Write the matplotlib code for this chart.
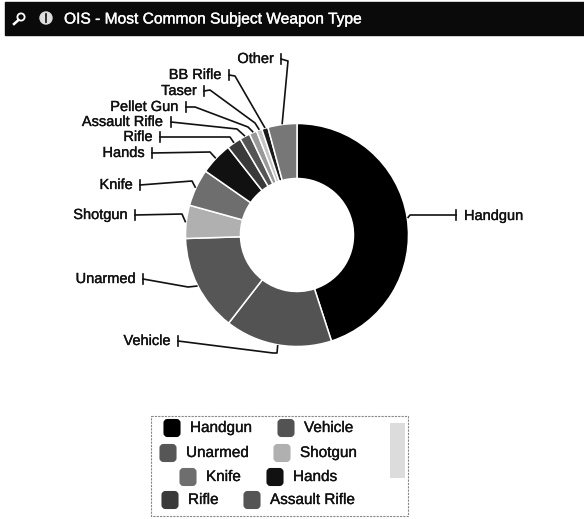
import numpy as np
import matplotlib
matplotlib.use("Agg")
import matplotlib.pyplot as plt
import matplotlib.patheffects as pe
from matplotlib.patches import Circle, FancyBboxPatch, Rectangle

plt.rcParams['font.family'] = ['Liberation Sans', 'DejaVu Sans']

categories = ["Handgun", "Vehicle", "Unarmed", "Shotgun", "Knife", "Hands",
              "Rifle", "Assault Rifle", "Pellet Gun", "Taser", "BB Rifle", "Other"]
values = [45.0, 15.5, 14.0, 4.8, 5.4, 4.7, 2.1, 1.5, 1.1, 0.8, 0.9, 4.2]
colors = ["#000000", "#535353", "#565656", "#b0b0b0", "#6e6e6e", "#111111",
          "#3a3a3a", "#555555", "#999999", "#c4c4c4", "#1a1a1a", "#777777"]
title = "OIS - Most Common Subject Weapon Type"
legend_rows = [["Handgun", "Vehicle"], ["Unarmed", "Shotgun"],
               ["Knife", "Hands"], ["Rifle", "Assault Rifle"]]

# label tick position and elbows of the leader lines, in pixels
leaders = {
    "Handgun": [(456, 215), (410, 215)],
    "Vehicle": [(178, 341), (273, 353), (277, 353)],
    "Unarmed": [(143, 279), (188, 287)],
    "Shotgun": [(135, 215), (182, 214)],
    "Knife": [(140, 185), (192, 181)],
    "Hands": [(152, 153), (210, 152)],
    "Rifle": [(160, 137), (230, 137)],
    "Assault Rifle": [(171, 122), (237, 129)],
    "Pellet Gun": [(186, 107), (195, 107), (248, 127)],
    "Taser": [(204, 91), (210, 90), (255, 123)],
    "BB Rifle": [(229, 75), (235, 76)],
    "Other": [(281, 59), (288, 61)],
}
swatch_x = {"Handgun": 163, "Vehicle": 277, "Unarmed": 159, "Shotgun": 273,
            "Knife": 179, "Hands": 266, "Rifle": 161, "Assault Rifle": 243}
ink = [pe.withStroke(linewidth=0.25, foreground="#111111")]

W, H = 584, 519
fig = plt.figure(figsize=(W / 100, H / 100), dpi=100)
ax = fig.add_axes([0, 0, 1, 1])
ax.set_xlim(0, W)
ax.set_ylim(H, 0)
ax.axis("off")

# title bar
ax.add_patch(Rectangle((5, 2), W - 5, 33, color="#0a0a0a", zorder=1))
ax.text(64, 19, title, color="white", fontsize=11.2, va="center", zorder=3,
        path_effects=[pe.withStroke(linewidth=0.25, foreground="white")])
ax.add_patch(Circle((21, 17), 3.6, fill=False, ec="white", lw=1.3, zorder=3))
ax.plot([18.5, 14], [20, 24], color="white", lw=1.8, zorder=3)
ax.add_patch(Circle((46, 18), 6, color="#dddddd", zorder=3))
ax.plot([46, 46], [16, 22], color="#222222", lw=1.3, zorder=4)
ax.plot([46, 46], [13.5, 14.8], color="#222222", lw=1.3, zorder=4)

# y axis is inverted here, so angles run clockwise on screen
cx, cy, radius = 297, 235, 111.5
wedges, _ = ax.pie(values, colors=colors, startangle=-90, counterclock=True,
                   center=(cx, cy), radius=radius, frame=False,
                   wedgeprops=dict(width=55, edgecolor="white", linewidth=1.1))
ax.set_xlim(0, W)
ax.set_ylim(H, 0)
ax.set_aspect("equal")

for name, wedge in zip(categories, wedges):
    mid = np.deg2rad((wedge.theta1 + wedge.theta2) / 2)
    anchor = (cx + (radius + 1) * np.cos(mid), cy + (radius + 1) * np.sin(mid))
    pts = leaders[name] + [anchor]
    ax.plot([p[0] for p in pts], [p[1] for p in pts], color="#111111", lw=1.2, zorder=3)
    tx, ty = leaders[name][0]
    ax.plot([tx, tx], [ty - 5, ty + 5], color="#111111", lw=1.2, zorder=3)
    if name == "Handgun":
        ax.text(tx + 8, ty + 1, name, fontsize=10.5, ha="left", va="center",
                color="#111111", path_effects=ink)
    else:
        ax.text(tx - 7, ty, name, fontsize=10.5, ha="right", va="center",
                color="#111111", path_effects=ink)

# legend box with its scroll strip
ax.add_patch(Rectangle((151, 416), 257, 100, fc="white", ec="#888888", lw=0.8, ls=(0, (2, 1))))
ax.add_patch(Rectangle((390, 423), 15, 55, fc="#dcdcdc", ec="none"))
color_of = dict(zip(categories, colors))
row_y = [428, 453, 477, 500]
for row, y in zip(legend_rows, row_y):
    for name in row:
        x = swatch_x[name]
        box = FancyBboxPatch((x + 1.5, y - 8), 15, 16, boxstyle="round,pad=0,rounding_size=3",
                             fc=color_of[name], ec=color_of[name], lw=1.5)
        ax.add_patch(box)
        ax.text(x + 27, y, name, fontsize=11, va="center", color="#111111", path_effects=ink)

fig.savefig("out.png", dpi=100)
